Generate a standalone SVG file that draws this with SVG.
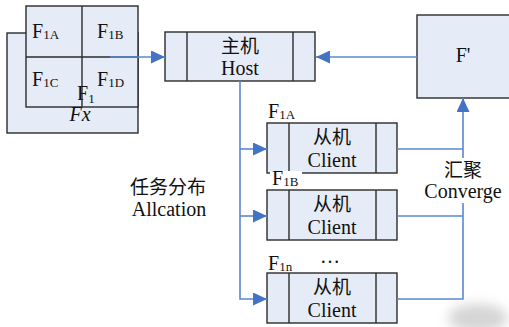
<svg xmlns="http://www.w3.org/2000/svg" width="509" height="327" viewBox="0 0 509 327">
<style>
.box{fill:#E6ECF7;stroke:#2b2b2b;stroke-width:1.4}
.div{stroke:#2b2b2b;stroke-width:1.4;fill:none}
.t{font-family:"Liberation Serif","Times New Roman",serif;font-size:20px;fill:#111}
.c{font-family:"Noto Sans CJK SC","Liberation Serif",sans-serif;font-size:19px;fill:#111}
.sub{font-size:13px}
.conn{fill:none;stroke:#5A88CF;stroke-width:1.6}
.bg{fill:#ffffff}
</style>
<defs>
<marker id="ah" markerUnits="userSpaceOnUse" markerWidth="14" markerHeight="13" refX="14" refY="6.5" orient="auto">
<path d="M0,0 L14,6.5 L0,13 Z" fill="#4472C4"/>
</marker>
<filter id="blur" x="-50%" y="-50%" width="200%" height="200%"><feGaussianBlur stdDeviation="6"/></filter>
</defs>

<g id="watermark" filter="url(#blur)" opacity="0.35">
<ellipse cx="478" cy="318" rx="30" ry="14" fill="#888"/>
</g>

<g id="fx">
<rect class="box" x="7" y="33" width="131" height="100"/>
<rect class="box" x="26" y="6" width="112" height="101"/>
<line class="div" x1="82" y1="6" x2="82" y2="107"/>
<line class="div" x1="26" y1="57" x2="138" y2="57"/>
<text class="t" x="32" y="38">F<tspan class="sub" dy="1">1A</tspan></text>
<text class="t" x="97" y="38">F<tspan class="sub" dy="1">1B</tspan></text>
<text class="t" x="32" y="86">F<tspan class="sub" dy="1">1C</tspan></text>
<text class="t" x="97" y="86">F<tspan class="sub" dy="1">1D</tspan></text>
<text class="t" x="77" y="100">F<tspan class="sub" dy="3">1</tspan></text>
<text class="t" x="80" y="121" text-anchor="middle" font-style="italic" font-size="17">Fx</text>
</g>

<g id="host">
<rect class="box" x="165" y="32" width="150" height="49"/>
<line class="div" x1="187" y1="32" x2="187" y2="81"/>
<line class="div" x1="293" y1="32" x2="293" y2="81"/>
<text class="c" x="240" y="53" text-anchor="middle">主机</text>
<text class="t" x="240" y="75" text-anchor="middle">Host</text>
</g>

<g id="fprime">
<rect class="box" x="417" y="15" width="100" height="83"/>
<text class="t" x="463" y="62" text-anchor="middle">F'</text>
</g>

<g id="client1">
<rect class="box" x="267" y="123" width="130" height="50"/>
<line class="div" x1="289" y1="123" x2="289" y2="173"/>
<line class="div" x1="376" y1="123" x2="376" y2="173"/>
<text class="c" x="332" y="144" text-anchor="middle">从机</text>
<text class="t" x="332" y="167" text-anchor="middle">Client</text>
</g>

<g id="client2">
<rect class="box" x="267" y="190" width="130" height="50"/>
<line class="div" x1="289" y1="190" x2="289" y2="240"/>
<line class="div" x1="376" y1="190" x2="376" y2="240"/>
<text class="c" x="332" y="211" text-anchor="middle">从机</text>
<text class="t" x="332" y="234" text-anchor="middle">Client</text>
</g>

<g id="client3">
<rect class="box" x="267" y="273" width="130" height="50"/>
<line class="div" x1="289" y1="273" x2="289" y2="323"/>
<line class="div" x1="376" y1="273" x2="376" y2="323"/>
<text class="c" x="332" y="294" text-anchor="middle">从机</text>
<text class="t" x="332" y="317" text-anchor="middle">Client</text>
</g>

<g id="connectors">
<path class="conn" d="M110,57 H165" marker-end="url(#ah)"/>
<path class="conn" d="M417,57 H316" marker-end="url(#ah)"/>
<path class="conn" d="M240,81 V299 H267" marker-end="url(#ah)"/>
<path class="conn" d="M240,149 H267" marker-end="url(#ah)"/>
<path class="conn" d="M240,216 H267" marker-end="url(#ah)"/>
<path class="conn" d="M397,299 H463 V98" marker-end="url(#ah)"/>
<path class="conn" d="M397,149 H463"/>
<path class="conn" d="M397,216 H463"/>
</g>

<g id="labels">
<rect class="bg" x="266" y="103" width="32" height="17"/>
<text class="t" x="268" y="118">F<tspan class="sub" dy="1">1A</tspan></text>
<rect class="bg" x="270" y="171" width="32" height="18"/>
<text class="t" x="272" y="185">F<tspan class="sub" dy="1">1B</tspan></text>
<rect class="bg" x="266" y="255" width="30" height="17"/>
<text class="t" x="268" y="270">F<tspan class="sub" dy="1">1n</tspan></text>
<text class="t" x="330" y="263" text-anchor="middle">…</text>
<rect class="bg" x="420" y="158" width="86" height="45"/>
<text class="c" x="463" y="177" text-anchor="middle">汇聚</text>
<text class="t" x="463" y="198" text-anchor="middle">Converge</text>
<text class="c" x="168" y="194" text-anchor="middle">任务分布</text>
<text class="t" x="169" y="216" text-anchor="middle">Allcation</text>
</g>
</svg>
